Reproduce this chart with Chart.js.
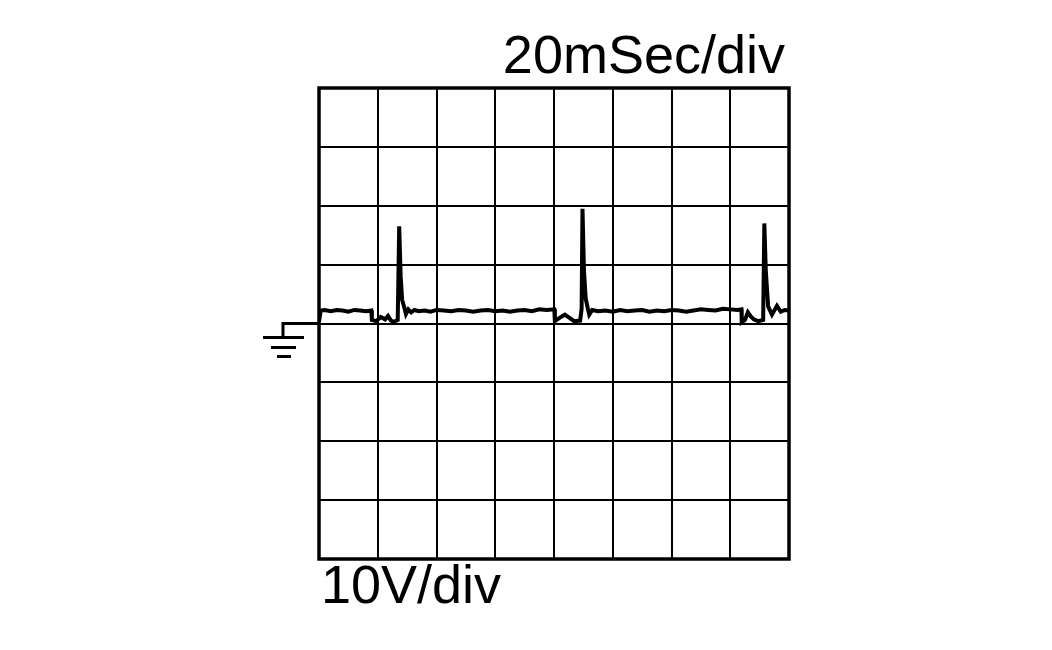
<!DOCTYPE html>
<html>
<head>
<meta charset="utf-8">
<script src="https://cdn.jsdelivr.net/npm/chart.js@4/dist/chart.umd.min.js"></script>
<style>
  html, body { margin: 0; padding: 0; background: #fff; }
  canvas { display: block; }
</style>
</head>
<body>
<canvas id="scope" width="1052" height="650"></canvas>
<script>
// trace: time in ms (20 ms/div), volts (10 V/div)
const timeMs = [
  0, 0.6, 2, 4, 6, 8, 10, 12, 14, 16, 17.8,
  18.0, 19.5, 21, 22.5, 23.5, 24.5, 25.5, 26.8,
  27.3, 27.8, 28.3, 29.0, 29.6, 30.4, 31.4, 32.5,
  34, 36, 38, 40, 42.5, 45, 47.5, 50, 52.5, 55, 57.5, 60, 62.5, 65, 67.5, 70, 72.5, 75, 77.5, 80.1,
  80.3, 82.0, 83.7, 85.4, 86.8, 88.9, 89.4,
  89.7, 90.2, 90.8, 91.4, 92.0, 93,
  95, 97.5, 100, 102.5, 105, 107.5, 110, 112.5, 115, 117.5, 120, 122.5, 125, 127.5, 130, 132.5, 135, 137.5, 140, 142.5, 143.8,
  143.9, 145.0, 146.0, 147.0, 148.0, 149.5, 151.2,
  151.6, 152.1, 152.9, 154.2, 155.9, 157.2, 158.5, 160
];
const volts = [
  0.3, 2.2, 2.3, 2.1, 2.3, 2.2, 2.0, 2.3, 2.2, 2.1, 2.2,
  0.6, 0.4, 1.1, 0.7, 1.3, 0.5, 0.3, 0.6,
  16.5, 8.0, 4.0, 2.8, 1.6, 2.4, 1.9, 2.3,
  2.1, 2.2, 2.0, 2.3, 2.2, 2.1, 2.3, 2.2, 2.0, 2.2, 2.3, 2.1, 2.2, 2.0, 2.2, 2.3, 2.1, 2.4, 2.3, 2.4,
  0.4, 1.0, 1.5, 0.9, 0.4, 0.5, 2.5,
  19.5, 9.0, 4.2, 2.8, 1.5, 2.3,
  2.1, 2.2, 2.0, 2.3, 2.1, 2.2, 2.3, 2.0, 2.2, 2.1, 2.3, 2.2, 2.0, 2.2, 2.4, 2.3, 2.2, 2.5, 2.4, 2.3, 2.4,
  0.2, 0.6, 1.9, 1.2, 0.7, 0.4, 0.6,
  17.0, 9.0, 2.9, 1.5, 3.0, 2.0, 2.3, 2.2
];
const timeTicks = [0, 160, 20];   // min, max, step
const voltTicks = [-40, 40, 10];

const scopeDecor = {
  id: "scopeDecor",
  afterDraw(chart) {
    const ctx = chart.ctx;
    const a = chart.chartArea;
    const gy = chart.scales.y.getPixelForValue(0);
    ctx.save();
    ctx.strokeStyle = "#000";
    ctx.fillStyle = "#000";
    // frame
    ctx.lineWidth = 3.5;
    ctx.strokeRect(a.left, a.top, a.right - a.left, a.bottom - a.top);
    // ground marker
    ctx.lineWidth = 3;
    ctx.beginPath();
    ctx.moveTo(a.left, gy);
    ctx.lineTo(a.left - 36, gy);
    ctx.lineTo(a.left - 36, gy + 14);
    ctx.moveTo(a.left - 56, gy + 14);
    ctx.lineTo(a.left - 15, gy + 14);
    ctx.moveTo(a.left - 48, gy + 24);
    ctx.lineTo(a.left - 23, gy + 24);
    ctx.moveTo(a.left - 42, gy + 33);
    ctx.lineTo(a.left - 28, gy + 33);
    ctx.stroke();
    // labels
    ctx.font = '54px "Liberation Sans", Arial, sans-serif';
    ctx.textBaseline = "alphabetic";
    ctx.textAlign = "right";
    ctx.fillText("20mSec/div", a.right - 4, a.top - 15);
    ctx.textAlign = "left";
    ctx.fillText("10V/div", a.left + 2, a.bottom + 44);
    ctx.restore();
  }
};

new Chart(document.getElementById("scope"), {
  type: "line",
  data: {
    datasets: [{
      data: timeMs.map((t, i) => ({ x: t, y: volts[i] })),
      borderColor: "#000",
      borderWidth: 4,
      pointRadius: 0,
      tension: 0,
      fill: false
    }]
  },
  options: {
    responsive: false,
    animation: false,
    layout: { padding: { left: 319, right: 263, top: 88, bottom: 91 } },
    plugins: { legend: { display: false }, title: { display: false }, tooltip: { enabled: false } },
    scales: {
      x: {
        type: "linear",
        min: timeTicks[0], max: timeTicks[1],
        ticks: { stepSize: timeTicks[2], display: false },
        grid: { color: "#000", lineWidth: 2, drawTicks: false },
        border: { display: false }
      },
      y: {
        min: voltTicks[0], max: voltTicks[1],
        ticks: { stepSize: voltTicks[2], display: false },
        grid: { color: "#000", lineWidth: 2, drawTicks: false },
        border: { display: false }
      }
    }
  },
  plugins: [scopeDecor]
});
</script>
</body>
</html>
